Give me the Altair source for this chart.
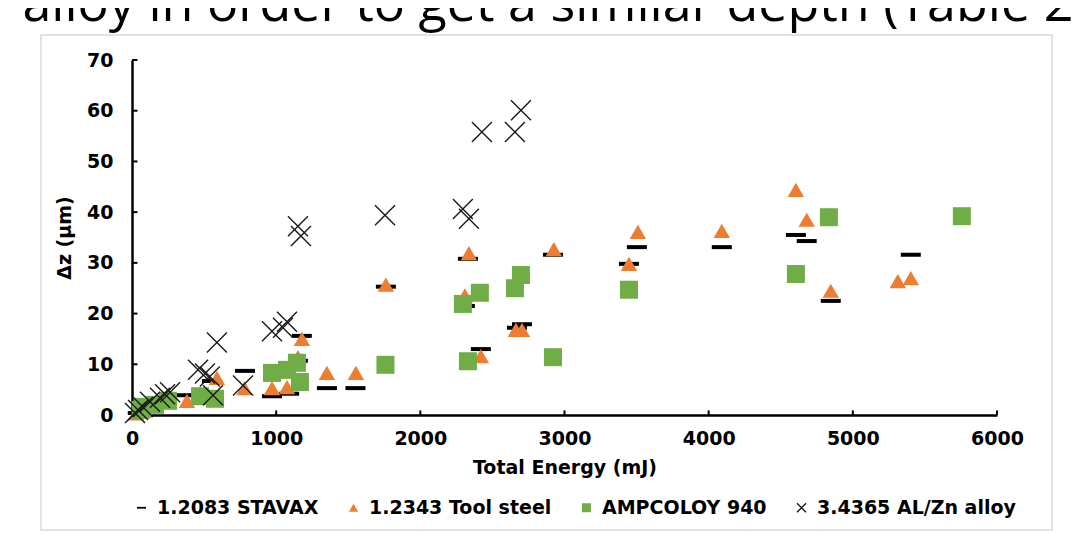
import altair as alt
import pandas as pd

series_names = ["1.2083 STAVAX", "1.2343 Tool steel", "AMPCOLOY 940", "3.4365 AL/Zn alloy"]

stavax_E = [40, 90, 150, 354, 555, 784, 971, 1090, 1151, 1178, 1352, 1550, 1761, 2309, 2330, 2420, 2670, 2705, 2920, 3447, 3502, 4091, 4605, 4680, 4847, 5402]
stavax_dz = [0.4, 1.0, 1.8, 3.9, 6.7, 8.7, 3.7, 4.2, 10.7, 15.6, 5.3, 5.3, 25.3, 21.5, 30.8, 13.0, 17.2, 17.9, 31.6, 29.8, 33.1, 33.1, 35.5, 34.3, 22.5, 31.6]

tool_E = [30, 80, 381, 589, 780, 971, 1075, 1151, 1179, 1352, 1553, 1761, 2309, 2337, 2420, 2663, 2705, 2926, 3447, 3509, 4091, 4605, 4680, 4847, 5312, 5402]
tool_dz = [0.3, 0.8, 2.8, 7.3, 5.3, 5.3, 5.5, 11.4, 15.0, 8.3, 8.3, 25.7, 23.6, 31.9, 11.6, 16.8, 16.8, 32.7, 29.8, 36.1, 36.3, 44.4, 38.5, 24.5, 26.4, 27.0]

amp_E = [60, 76, 160, 250, 472, 576, 971, 1075, 1144, 1165, 1758, 2295, 2330, 2413, 2656, 2698, 2920, 3447, 4605, 4834, 5756]
amp_dz = [1.0, 1.6, 2.0, 2.8, 3.7, 3.2, 8.3, 8.9, 10.3, 6.5, 9.9, 21.9, 10.6, 24.1, 25.0, 27.6, 11.4, 24.7, 27.8, 39.0, 39.2]

alzn_E = [21, 42, 76, 125, 194, 229, 264, 458, 506, 540, 562, 589, 770, 971, 1047, 1075, 1151, 1172, 1755, 2295, 2337, 2427, 2656, 2698]
alzn_dz = [0.4, 1.0, 1.6, 2.6, 3.4, 4.1, 4.5, 8.9, 8.2, 7.6, 3.9, 14.3, 5.8, 16.5, 17.2, 18.4, 37.2, 35.3, 39.4, 40.6, 38.7, 55.8, 55.8, 60.1]

x_ticks = [0, 1000, 2000, 3000, 4000, 5000, 6000]
y_ticks = [0, 10, 20, 30, 40, 50, 60, 70]
top_text = "n alloy in order to get a similar depth (Table 2)"

fill_range = ["#000000", "#ED7D31", "#70AD47", "#000000"]
stroke_range = ["transparent", "transparent", "transparent", "#1a1a1a"]
shape_range = ["M-1,-0.2L1,-0.2L1,0.2L-1,0.2Z", "triangle-up", "square", "M-1,-1L1,1M-1,1L1,-1"]

legend = alt.Legend(
    title=None, orient="none", legendX=0, legendY=438, direction="horizontal", columns=4,
    labelLimit=400,
)
x_scale = alt.Scale(domain=[0, 6000], nice=False, zero=True)
y_scale = alt.Scale(domain=[0, 70], nice=False, zero=True)
x_axis = alt.Axis(values=x_ticks, format="d", title="Total Energy (mJ)", labelPadding=14, titlePadding=10)
y_axis = alt.Axis(values=y_ticks, format="d", title="Δz (µm)", labelPadding=19, titlePadding=12)


def X(field):
    return alt.X(field, type="quantitative", scale=x_scale, axis=x_axis)


def Y(field):
    return alt.Y(field, type="quantitative", scale=y_scale, axis=y_axis)


def enc_series():
    return dict(
        fill=alt.Fill("series:N", scale=alt.Scale(domain=series_names, range=fill_range), legend=legend),
        stroke=alt.Stroke("series:N", scale=alt.Scale(domain=series_names, range=stroke_range), legend=legend),
        shape=alt.Shape("series:N", scale=alt.Scale(domain=series_names, range=shape_range), legend=legend),
    )


def series_df(name, E, dz):
    return pd.DataFrame({"E": E, "dz": dz, "series": [name] * len(E)})


frame = alt.Chart(pd.DataFrame({"a": [0]})).mark_rect(
    fillOpacity=0, stroke="#d9d9d9", strokeWidth=1.5
).encode(x=alt.value(-91), x2=alt.value(920), y=alt.value(-25), y2=alt.value(470))

head = alt.Chart(pd.DataFrame({"t": [top_text]})).mark_text(
    align="left", baseline="alphabetic", font="Open Sans", fontSize=52, color="#000000"
).encode(text="t:N", x=alt.value(-155), y=alt.value(-39))

xt = pd.DataFrame({"E": x_ticks[1:], "dz": [0] * (len(x_ticks) - 1), "dz2": [0.9] * (len(x_ticks) - 1)})
yt = pd.DataFrame({"E": [0] * (len(y_ticks) - 1), "E2": [38] * (len(y_ticks) - 1), "dz": y_ticks[1:]})

xtick_layer = alt.Chart(xt).mark_rule(color="black", strokeWidth=2).encode(
    x=X("E"), y=Y("dz"), y2="dz2:Q")
ytick_layer = alt.Chart(yt).mark_rule(color="black", strokeWidth=2).encode(
    x=X("E"), x2="E2:Q", y=Y("dz"))

layers = [frame, head, xtick_layer, ytick_layer]
specs = [
    (series_names[0], stavax_E, stavax_dz, 400, 1),
    (series_names[1], tool_E, tool_dz, 270, 1),
    (series_names[2], amp_E, amp_dz, 324, 1),
    (series_names[3], alzn_E, alzn_dz, 400, 1.4),
]
for name, E, dz, size, sw in specs:
    layers.append(
        alt.Chart(series_df(name, E, dz)).mark_point(filled=True, opacity=1, size=size, strokeWidth=sw).encode(
            x=X("E"), y=Y("dz"), **enc_series())
    )

chart = alt.layer(*layers).properties(
    width=865, height=355,
    autosize=alt.AutoSizeParams(type="none"),
    padding={"left": 124, "top": 52, "right": 75, "bottom": 120},
).configure_axis(
    labelFont="DejaVu Sans", labelFontWeight="bold", labelFontSize=19, labelColor="#000000",
    titleFont="DejaVu Sans", titleFontWeight="bold", titleFontSize=19, titleColor="#000000",
    domainColor="#000000", domainWidth=2.5, ticks=False, tickSize=0, grid=False,
    labelFlush=False, labelOverlap=False,
).configure_view(stroke=None).configure_legend(
    labelFont="DejaVu Sans", labelFontWeight="bold", labelFontSize=19, labelColor="#000000",
    symbolSize=81, labelOffset=6, columnPadding=25, symbolStrokeWidth=1.4, padding=0,
    labelLimit=400,
)

chart.save("out.html", embed_options={"renderer": "svg", "actions": False})
